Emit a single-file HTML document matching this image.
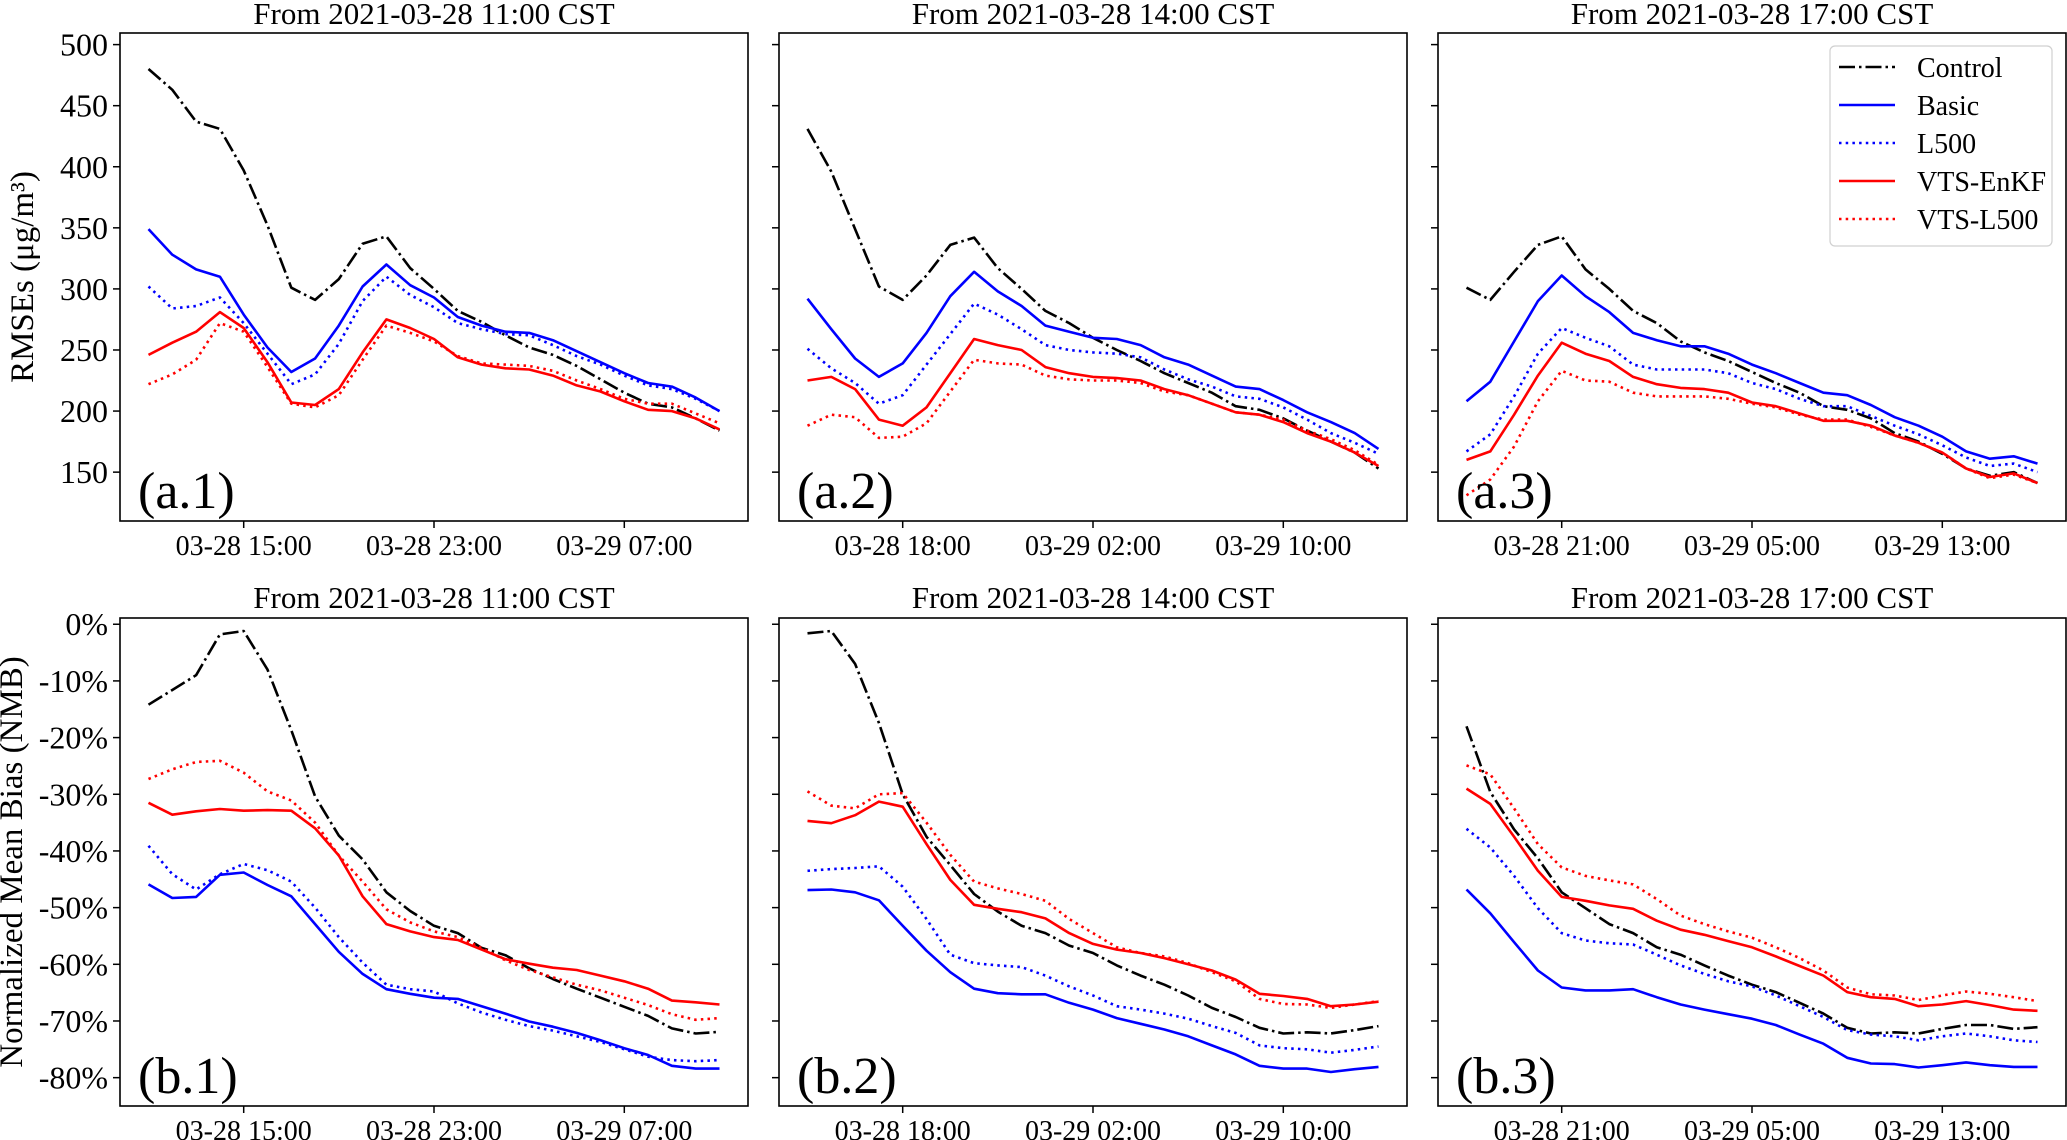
<!DOCTYPE html>
<html><head><meta charset="utf-8"><style>
html,body{margin:0;padding:0;background:#fff;}
svg{display:block;font-family:"Liberation Serif","DejaVu Serif",serif;}
</style></head><body>
<svg id="fig" width="2067" height="1140" viewBox="0 0 2067 1140" xmlns="http://www.w3.org/2000/svg"></svg>
<script>
const seriesNames = ["Control","Basic","L500","VTS-EnKF","VTS-L500"];
const startHours = [11,14,17];
const rmseTicks = [150,200,250,300,350,400,450,500];
const nmbTicks = [0,-10,-20,-30,-40,-50,-60,-70,-80];
// RMSE panels (a.1,a.2,a.3)
const a1Control = [480,463,437,431,397,352,301,291,308,337,343,317,300,282,273,262,252,246,237,226,215,206,203,194,184];
const a1Basic = [349,328,316,310,279,252,232,243,270,302,320,303,293,277,270,265,264,258,249,240,231,223,220,211,200];
const a1L500 = [302,284,286,293,272,247,222,230,255,290,310,295,285,272,267,263,262,254,245,238,229,221,218,210,200];
const a1Enkf = [246,256,265,281,268,240,207,205,218,248,275,268,259,244,238,235,234,229,221,216,208,201,200,194,185];
const a1VtsL = [222,230,242,272,265,236,206,203,213,242,270,264,257,245,239,238,237,233,225,218,210,206,206,198,190];
const a2Control = [431,396,349,302,291,311,336,342,317,300,282,272,260,250,241,231,223,215,204,201,194,184,175,166,153];
const a2Basic = [292,267,243,228,239,264,294,314,298,286,270,265,260,259,254,244,238,229,220,218,209,199,191,182,169];
const a2L500 = [251,235,223,206,213,238,263,288,279,267,254,250,248,247,244,234,226,220,212,210,203,193,182,174,165];
const a2Enkf = [225,228,218,193,188,203,231,259,254,250,236,231,228,227,225,218,213,206,199,197,191,182,175,166,155];
const a2VtsL = [188,197,195,178,179,190,216,242,239,238,229,226,225,225,223,216,213,206,199,197,193,184,177,168,156];
const a3Control = [301,291,314,336,343,316,300,282,272,257,248,241,232,223,215,204,201,194,182,175,165,153,147,150,141];
const a3Basic = [208,224,257,290,311,294,281,264,258,253,253,247,238,231,223,215,213,205,195,188,179,167,161,163,157];
const a3L500 = [167,181,212,247,268,260,253,238,234,234,234,231,223,218,210,204,204,196,188,181,172,162,155,157,150];
const a3Enkf = [160,167,197,229,256,247,241,228,222,219,218,215,207,204,198,192,192,188,180,174,166,153,146,149,141];
const a3VtsL = [131,144,171,208,233,225,224,215,212,212,212,210,206,203,197,193,193,187,180,174,166,153,145,148,141];
// NMB panels (b.1,b.2,b.3), percent
const b1Control = [-14.2,-11.6,-9,-1.8,-1.2,-8,-18.7,-30.4,-37.3,-41.5,-47.3,-50.6,-53.2,-54.5,-57.1,-58.4,-60.7,-62.6,-64.3,-65.9,-67.5,-69.1,-71.3,-72.2,-71.9];
const b1Basic = [-45.9,-48.3,-48.1,-44.2,-43.8,-46,-48,-52.9,-57.8,-61.7,-64.4,-65.2,-65.9,-66.1,-67.4,-68.7,-70.1,-71,-72.1,-73.4,-74.8,-76,-77.9,-78.4,-78.4];
const b1L500 = [-39.1,-44.1,-46.8,-44.1,-42.3,-43.4,-45.4,-50,-55.2,-59.7,-63.6,-64.4,-64.8,-66.9,-68.5,-69.8,-70.9,-71.7,-72.7,-73.7,-75,-76.3,-76.9,-77.1,-76.9];
const b1Enkf = [-31.5,-33.6,-33,-32.6,-32.9,-32.8,-32.9,-36,-40.8,-48,-52.9,-54.2,-55.2,-55.7,-57.4,-59.1,-59.9,-60.6,-61,-62,-63,-64.3,-66.4,-66.7,-67.1];
const b1VtsL = [-27.3,-25.6,-24.3,-24.1,-26.2,-29.5,-31.1,-35,-40.8,-45.4,-50.3,-52.6,-54.2,-55.2,-57.1,-59.3,-61,-62.3,-63.6,-64.6,-65.9,-67.2,-68.8,-69.8,-69.5];
const b2Control = [-1.6,-1.2,-7,-17.4,-30,-37.5,-42.5,-47.6,-50.7,-53.2,-54.5,-56.7,-58,-60.2,-62,-63.6,-65.5,-67.7,-69.3,-71.2,-72.2,-72,-72.2,-71.6,-70.9];
const b2Basic = [-46.9,-46.8,-47.3,-48.7,-53.2,-57.6,-61.4,-64.3,-65.1,-65.3,-65.3,-66.8,-68,-69.5,-70.5,-71.5,-72.7,-74.3,-75.9,-77.9,-78.4,-78.4,-79,-78.5,-78.1];
const b2L500 = [-43.5,-43.2,-43,-42.7,-46.3,-52,-58.3,-59.8,-60.2,-60.5,-62,-63.9,-65.5,-67.4,-68,-68.7,-69.6,-70.9,-72.1,-74.3,-74.8,-75,-75.6,-75.1,-74.5];
const b2Enkf = [-34.7,-35.1,-33.7,-31.3,-32.2,-38.8,-45.1,-49.5,-50.2,-50.8,-51.9,-54.5,-56.4,-57.4,-58,-58.9,-60,-61.1,-62.7,-65.2,-65.6,-66.1,-67.4,-67.1,-66.6];
const b2VtsL = [-29.5,-32,-32.5,-30,-29.8,-35,-40.7,-45.4,-46.6,-47.6,-48.8,-52,-54.5,-57,-58,-58.6,-59.8,-61.4,-63,-66.1,-67,-67.1,-67.7,-67.1,-66.5];
const b3Control = [-18,-29.6,-36.2,-41.3,-47.3,-50.1,-52.9,-54.5,-57,-58.3,-60.2,-62,-63.6,-64.9,-66.8,-68.7,-71.2,-72.2,-72,-72.2,-71.4,-70.7,-70.7,-71.4,-71.1];
const b3Basic = [-46.8,-51,-56.1,-61.1,-64.1,-64.6,-64.6,-64.4,-65.8,-67.1,-68,-68.8,-69.6,-70.7,-72.4,-74,-76.5,-77.5,-77.6,-78.2,-77.8,-77.3,-77.8,-78.1,-78.1];
const b3L500 = [-36.1,-39.4,-44.4,-50.1,-54.5,-55.8,-56.3,-56.5,-58.3,-60.2,-61.7,-63,-63.9,-65.5,-67.4,-69.3,-71.6,-72.4,-72.7,-73.4,-72.7,-72.2,-72.7,-73.4,-73.7];
const b3Enkf = [-29,-31.7,-37.5,-43.5,-48.1,-48.8,-49.6,-50.2,-52.3,-53.9,-54.8,-55.9,-57,-58.6,-60.3,-62,-64.9,-65.8,-66.1,-67.4,-67.1,-66.5,-67.2,-68,-68.2];
const b3VtsL = [-24.9,-26.5,-32.5,-38.8,-42.9,-44.4,-45.2,-45.9,-48.5,-51.4,-52.9,-54.2,-55.3,-57,-58.9,-61.1,-64.1,-65.3,-65.5,-66.3,-65.5,-64.8,-65.2,-65.8,-66.5];

const NS="http://www.w3.org/2000/svg";
const svg=document.getElementById('fig');
function mk(tag,attrs,parent){const e=document.createElementNS(NS,tag);for(const k in attrs)e.setAttribute(k,attrs[k]);(parent||svg).appendChild(e);return e;}
const styles=[
 {c:'#000',d:'16 4 2.5 4'},
 {c:'#0000ff',d:''},
 {c:'#0000ff',d:'2.5 4.2'},
 {c:'#ff0000',d:''},
 {c:'#ff0000',d:'2.5 4.2'}];
const colX=[120,779,1438], W=628;
const rows=[
 {top:33,bot:521,ymin:110,ymax:509.5,ticks:rmseTicks,fmt:v=>String(v),
  data:[[a1Control,a1Basic,a1L500,a1Enkf,a1VtsL],[a2Control,a2Basic,a2L500,a2Enkf,a2VtsL],[a3Control,a3Basic,a3L500,a3Enkf,a3VtsL]],
  labels:['(a.1)','(a.2)','(a.3)'],titleY:24,ylabel:'RMSEs (μg/m³)'},
 {top:618,bot:1106,ymin:-85,ymax:1.1,ticks:nmbTicks,fmt:v=>v+'%',
  data:[[b1Control,b1Basic,b1L500,b1Enkf,b1VtsL],[b2Control,b2Basic,b2L500,b2Enkf,b2VtsL],[b3Control,b3Basic,b3L500,b3Enkf,b3VtsL]],
  labels:['(b.1)','(b.2)','(b.3)'],titleY:608,ylabel:'Normalized Mean Bias (NMB)'}];
function pad(n){return (n<10?'0':'')+n;}
rows.forEach((r,ri)=>{
 colX.forEach((x0,ci)=>{
  const g=mk('g',{});
  
  
  const xs=h=>x0+(h+1.2)/26.4*W;
  const ys=v=>r.bot-(v-r.ymin)/(r.ymax-r.ymin)*(r.bot-r.top);
  const t=mk('text',{x:x0+W/2,y:r.titleY,'text-anchor':'middle','font-size':31},g);
  t.textContent='From 2021-03-28 '+pad(startHours[ci])+':00 CST';
  
  
  r.ticks.forEach(v=>{
   const y=ys(v);
   mk('line',{x1:x0-7,x2:x0,y1:y,y2:y,stroke:'#000','stroke-width':1.5},g);
   if(ci===0){const tl=mk('text',{x:x0-12,y:y+11,'text-anchor':'end','font-size':32},g);tl.textContent=r.fmt(v);
    
    }
  });
  [4,12,20].forEach(h=>{
   const x=xs(h);
   mk('line',{x1:x,x2:x,y1:r.bot,y2:r.bot+7,stroke:'#000','stroke-width':1.5},g);
   const hr=startHours[ci]+h, day=28+Math.floor(hr/24);
   const tl=mk('text',{x:x,y:r.bot+34,'text-anchor':'middle','font-size':28},g);
   tl.textContent='03-'+day+' '+pad(hr%24)+':00';
   
   
  });
  const cp=mk('clipPath',{id:'cp'+ri+ci},g);
  mk('rect',{x:x0,y:r.top,width:W,height:r.bot-r.top},cp);
  r.data[ci].forEach((arr,si)=>{
   const pts=arr.map((v,i)=>xs(i).toFixed(1)+','+ys(v).toFixed(1)).join(' ');
   const pl=mk('polyline',{points:pts,fill:'none',stroke:styles[si].c,'stroke-width':2.6,'stroke-linejoin':'round','clip-path':'url(#cp'+ri+ci+')'},g);
   if(styles[si].d)pl.setAttribute('stroke-dasharray',styles[si].d);
   
   
  });
  const pl=mk('text',{x:x0+18,y:r.bot-13,'font-size':52},g);
  pl.textContent=r.labels[ci];
  
  
  const fr=mk('rect',{x:x0,y:r.top,width:W,height:r.bot-r.top,fill:'none',stroke:'#000','stroke-width':1.6},g);
  
  
 });
 const cy=(r.top+r.bot)/2, cx=ri===0?33:22;
 const yl=mk('text',{x:cx,y:cy,'text-anchor':'middle','font-size':33,transform:'rotate(-90 '+cx+' '+cy+')'});
 yl.textContent=r.ylabel;
 
 
});
// legend
const lg=mk('g',{});


mk('rect',{x:1830,y:46,width:222,height:200,rx:5,fill:'#fff','fill-opacity':0.8,stroke:'#d0d0d0','stroke-width':1.2},lg);
seriesNames.forEach((n,i)=>{
 const y=67+i*38;
 const ln=mk('line',{x1:1839,x2:1895,y1:y,y2:y,stroke:styles[i].c,'stroke-width':2.6},lg);
 if(styles[i].d)ln.setAttribute('stroke-dasharray',styles[i].d);
 const t=mk('text',{x:1917,y:y+10,'font-size':28},lg);
 t.textContent=n;
 
 
});
</script>
</body></html>
